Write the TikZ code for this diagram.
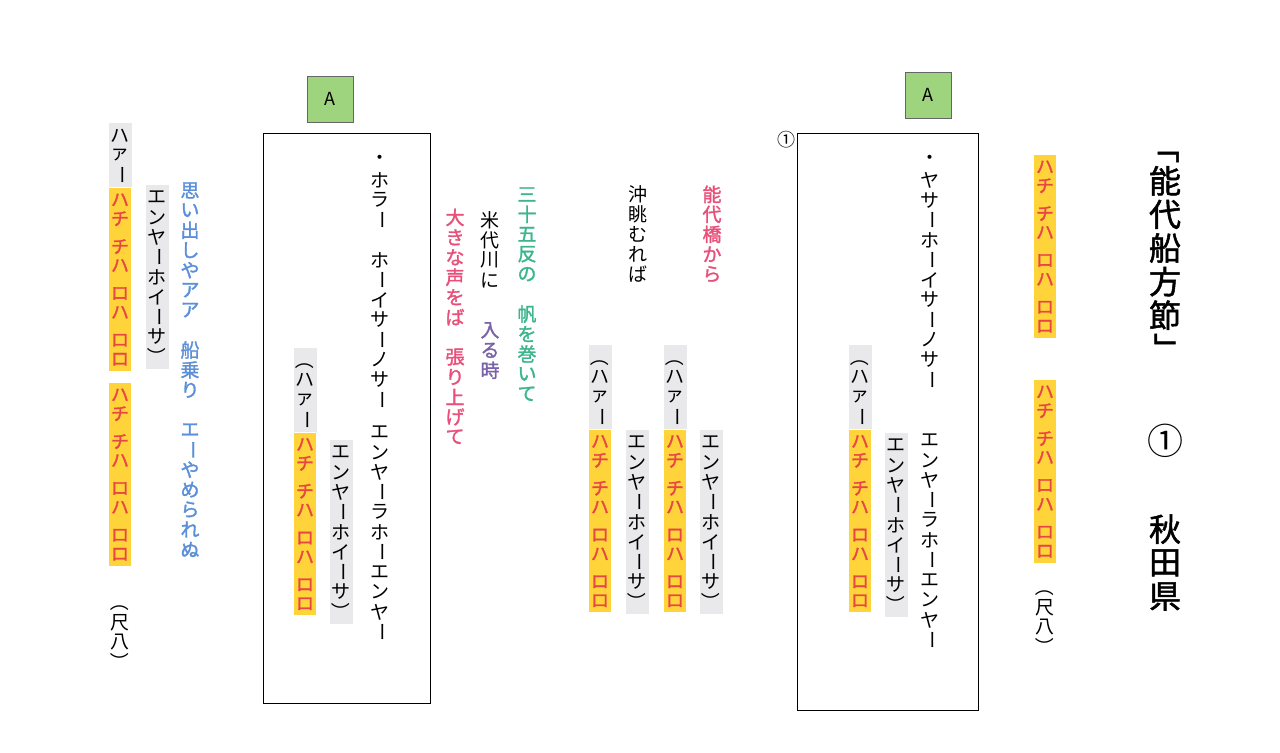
\documentclass[tikz,border=0pt]{standalone}
\usepackage{fontspec}
\setmainfont{Noto Sans CJK JP}[AutoFakeBold=1.6]
\usetikzlibrary{positioning}

\definecolor{hlyellow}{HTML}{FFD43B}
\definecolor{hlgray}{HTML}{E9E9EB}
\definecolor{redtxt}{HTML}{E84545}
\definecolor{pinktxt}{HTML}{E8507A}
\definecolor{tealtxt}{HTML}{3DB58C}
\definecolor{purpletxt}{HTML}{7A62A8}
\definecolor{bluetxt}{HTML}{5B8FD8}
\definecolor{labelgreen}{HTML}{9ED47E}

% vertical text: one character per row
\makeatletter
\def\vbar{ー}\def\vlp{（}\def\vrp{）}\def\vlq{「}\def\vrq{」}\def\vhalf{*}
\newif\ifvrot
\newcommand\vcol[1]{\vbox{\offinterlineskip\@tfor\vc:=#1\do{\vchar}}}
\def\vchar{%
  \vrotfalse
  \ifx\vc\vbar\vrottrue\fi \ifx\vc\vlp\vrottrue\fi \ifx\vc\vrp\vrottrue\fi
  \ifx\vc\vlq\vrottrue\fi \ifx\vc\vrq\vrottrue\fi
  \ifx\vc\vhalf\vskip.5em\else
  \vbox to 1.05em{\vss\hbox to 1em{\hss\ifvrot\rotatebox[origin=c]{-90}{\vc}\else\vc\fi\hss}\vss}%
  \fi}
\makeatother

\tikzset{
  vtext/.style={anchor=north, inner sep=1pt, font=\fontsize{9.5pt}{10pt}\selectfont},
  hachi/.style={vtext, fill=hlyellow, text=redtxt, font=\fontsize{9pt}{10pt}\selectfont\bfseries},
  kake/.style={vtext, fill=hlgray},
  lyric/.style={vtext},
  colored/.style={vtext, font=\fontsize{9.5pt}{10pt}\selectfont\bfseries},
  labelA/.style={draw=black!60, fill=labelgreen, minimum width=23pt, minimum height=23pt, font=\fontsize{9pt}{10pt}\selectfont\rmfamily},
}

\begin{document}
\begin{tikzpicture}[x=0.5pt, y=-0.5pt]
\useasboundingbox (0,0) rectangle (1280,753);

% title
\node[vtext, font=\fontsize{16pt}{17pt}\selectfont\bfseries] (title) at (1165,128) {\vcol{「能代船方節」}};
\node[vtext, font=\fontsize{18pt}{19pt}\selectfont] (num) at (1165,422) {①};
\node[vtext, font=\fontsize{16pt}{17pt}\selectfont\bfseries] (pref) at (1165,510) {\vcol{秋田県}};

% shakuhachi intro
\node[hachi] (r1) at (1045,155) {\vcol{ハチ*チハ*ロハ*ロロ}};
\node[hachi] (r2) at (1045,380) {\vcol{ハチ*チハ*ロハ*ロロ}};
\node[lyric] (r3) at (1045,575) {\vcol{（尺八）}};

% first frame
\draw (797,133) rectangle (978,710);
\node[labelA] (a1) at (928,95) {A};
\node[font=\fontsize{9pt}{10pt}\selectfont] (n1) at (786,140) {①};
\node[lyric] (f1) at (930,148) {\vcol{・ヤサーホーイサーノサー}};
\node[lyric] (f2) at (930,428) {\vcol{エンヤーラホーエンヤー}};
\node[kake] (f3) at (860,345) {\vcol{（ハァー}};
\node[hachi, below=0pt of f3] (f4) {\vcol{ハチ*チハ*ロハ*ロロ}};
\node[kake] (f5) at (896,433) {\vcol{エンヤーホイーサ）}};

% verse 1
\node[colored, text=pinktxt] (v1) at (712,182) {\vcol{能代橋から}};
\node[lyric] (v2) at (638,182) {\vcol{沖眺むれば}};
\node[kake] (v3) at (675,345) {\vcol{（ハァー}};
\node[hachi, below=0pt of v3] (v4) {\vcol{ハチ*チハ*ロハ*ロロ}};
\node[kake] (v5) at (711,430) {\vcol{エンヤーホイーサ）}};
\node[kake] (v6) at (600,345) {\vcol{（ハァー}};
\node[hachi, below=0pt of v6] (v7) {\vcol{ハチ*チハ*ロハ*ロロ}};
\node[kake] (v8) at (637,430) {\vcol{エンヤーホイーサ）}};

% verse 2
\node[colored, text=tealtxt] (w1) at (527,182) {\vcol{三十五反の　帆を巻いて}};
\node[lyric] (w2) at (490,208) {\vcol{米代川に}};
\node[colored, text=purpletxt] (w3) at (490,318) {\vcol{入る時}};
\node[colored, text=pinktxt] (w4) at (455,205) {\vcol{大きな声をば　張り上げて}};

% second frame
\draw (263,133) rectangle (430,703);
\node[labelA] (a2) at (330,99) {A};
\node[lyric] (g1) at (380,148) {\vcol{・ホラー　ホーイサーノサー}};
\node[lyric] (g2) at (380,420) {\vcol{エンヤーラホーエンヤー}};
\node[kake] (g3) at (305,348) {\vcol{（ハァー}};
\node[hachi, below=0pt of g3] (g4) {\vcol{ハチ*チハ*ロハ*ロロ}};
\node[kake] (g5) at (341,440) {\vcol{エンヤーホイーサ）}};

% closing
\node[kake] (h1) at (120,123) {\vcol{ハァー}};
\node[hachi] (h2) at (120,188) {\vcol{ハチ*チハ*ロハ*ロロ}};
\node[hachi] (h3) at (120,383) {\vcol{ハチ*チハ*ロハ*ロロ}};
\node[lyric] (h4) at (120,590) {\vcol{（尺八）}};
\node[kake] (h5) at (157,185) {\vcol{エンヤーホイーサ）}};
\node[colored, text=bluetxt] (h6) at (190,178) {\vcol{思い出しやアア　船乗り　エーやめられぬ}};
\end{tikzpicture}
\end{document}
